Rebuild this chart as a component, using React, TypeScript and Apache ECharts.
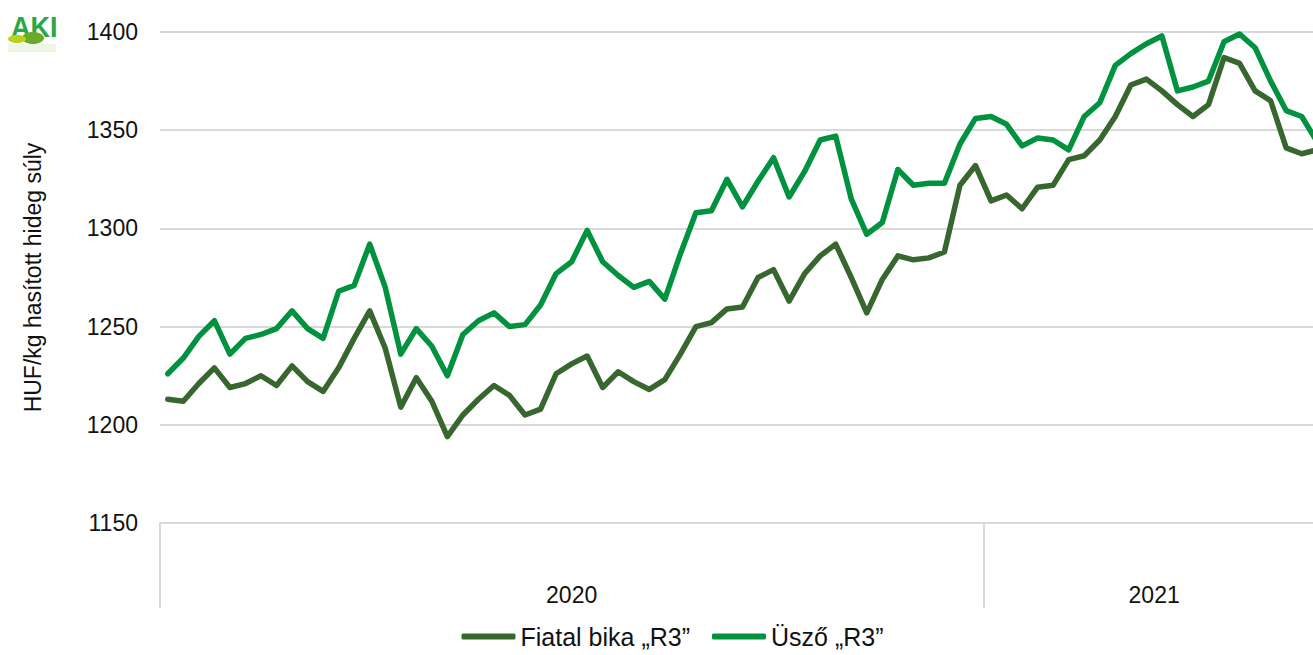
import React, { useEffect, useRef } from 'react';
import * as echarts from 'echarts';

const years = ['2020', '2021'];
const weeksPerYear = [53, 22];
const seriesNames = ['Fiatal bika „R3”', 'Üsző „R3”'];
const seriesColors = ['#37662F', '#00923F'];

const fiatalBika = [
  1213, 1212, 1221, 1229, 1219, 1221, 1225, 1220, 1230, 1222, 1217, 1229, 1244, 1258, 1239, 1209, 1224, 1212, 1194, 1205,
  1213, 1220, 1215, 1205, 1208, 1226, 1231, 1235, 1219, 1227, 1222, 1218, 1223, 1236, 1250, 1252, 1259, 1260, 1275, 1279,
  1263, 1277, 1286, 1292, 1275, 1257, 1274, 1286, 1284, 1285, 1288, 1322, 1332,
  1314, 1317, 1310, 1321, 1322, 1335, 1337, 1345, 1357, 1373, 1376, 1370, 1363, 1357, 1363, 1387, 1384, 1370, 1365, 1341,
  1338, 1340,
];
const uszo = [
  1226, 1234, 1245, 1253, 1236, 1244, 1246, 1249, 1258, 1249, 1244, 1268, 1271, 1292, 1270, 1236, 1249, 1240, 1225, 1246,
  1253, 1257, 1250, 1251, 1261, 1277, 1283, 1299, 1283, 1276, 1270, 1273, 1264, 1287, 1308, 1309, 1325, 1311, 1324, 1336,
  1316, 1329, 1345, 1347, 1315, 1297, 1303, 1330, 1322, 1323, 1323, 1343, 1356,
  1357, 1353, 1342, 1346, 1345, 1340, 1357, 1364, 1383, 1389, 1394, 1398, 1370, 1372, 1375, 1395, 1399, 1392, 1375, 1360,
  1357, 1344,
];
const yMin = 1150;
const yMax = 1400;
const yStep = 50;
const yAxisTitle = 'HUF/kg hasított hideg súly';

// weekly categories
const categories: string[] = [];
years.forEach((y, i) => {
  for (let w = 1; w <= weeksPerYear[i]; w++) categories.push(`${y}. ${w}. hét`);
});

// half-week positions for the year-group axis (boundaries and centres of each year)
const totalWeeks = categories.length;
const groupPoints: string[] = Array.from({ length: 2 * totalWeeks + 1 }, (_, k) => `p${k}`);
const groupLabels: string[] = groupPoints.map(() => '');
const groupBoundaries: number[] = [0];
let acc = 0;
weeksPerYear.forEach((n, i) => {
  groupLabels[2 * acc + n] = years[i];
  acc += n;
  groupBoundaries.push(2 * acc);
});

const FONT = '"Liberation Sans", Arial, sans-serif';

export default function App() {
  const ref = useRef<HTMLDivElement>(null);
  useEffect(() => {
    if (!ref.current) return;
    const chart = echarts.init(ref.current, undefined, { renderer: 'svg' });
    chart.setOption({
      animation: false,
      backgroundColor: '#fff',
      textStyle: { fontFamily: FONT },
      grid: { left: 160, top: 32, width: 1165, height: 491, containLabel: false },
      legend: {
        top: 619,
        left: 'center',
        icon: 'roundRect',
        itemWidth: 54,
        itemHeight: 6,
        itemGap: 22,
        textStyle: { fontSize: 25, color: '#111', fontFamily: FONT },
        data: seriesNames,
      },
      xAxis: [
        {
          type: 'category',
          data: categories,
          boundaryGap: true,
          axisLine: { show: true, lineStyle: { color: '#d9d9d9', width: 2 } },
          axisTick: { show: false },
          axisLabel: { show: false },
          splitLine: { show: false },
        },
        {
          type: 'category',
          position: 'bottom',
          offset: 0,
          data: groupPoints,
          boundaryGap: false,
          axisLine: { show: false },
          axisTick: {
            show: true,
            length: 85,
            interval: (index: number) => groupBoundaries.includes(index),
            lineStyle: { color: '#d9d9d9', width: 2 },
          },
          axisLabel: {
            show: true,
            interval: (index: number) => groupLabels[index] !== '',
            formatter: (_v: string, index: number) => groupLabels[index],
            margin: 60,
            fontSize: 23,
            color: '#111',
            fontFamily: FONT,
          },
          splitLine: { show: false },
        },
      ],
      yAxis: {
        type: 'value',
        min: yMin,
        max: yMax,
        interval: yStep,
        name: yAxisTitle,
        nameLocation: 'middle',
        nameRotate: 90,
        nameGap: 116,
        nameTextStyle: { fontSize: 23, color: '#111', fontFamily: FONT },
        axisLine: { show: false },
        axisTick: { show: false },
        axisLabel: {
          fontSize: 23,
          color: '#111',
          margin: 22,
          fontFamily: FONT,
          formatter: (v: number) => String(v),
        },
        splitLine: { show: true, lineStyle: { color: '#d9d9d9', width: 2 } },
      },
      series: [
        {
          name: seriesNames[0],
          type: 'line',
          data: fiatalBika,
          symbol: 'none',
          color: seriesColors[0],
          lineStyle: { width: 5.5, color: seriesColors[0], cap: 'round', join: 'round' },
        },
        {
          name: seriesNames[1],
          type: 'line',
          data: uszo,
          symbol: 'none',
          color: seriesColors[1],
          lineStyle: { width: 5.5, color: seriesColors[1], cap: 'round', join: 'round' },
        },
      ],
      graphic: [
        {
          type: 'text',
          left: 11,
          top: 11,
          z: 10,
          scaleX: 0.9,
          style: { text: 'AKI', fontSize: 30, fontWeight: 'bold', fontFamily: FONT, fill: '#2aa845' },
        },
        { type: 'ellipse', z: 11, shape: { cx: 33, cy: 38, rx: 11, ry: 6 }, style: { fill: '#6aa82e' } },
        { type: 'ellipse', z: 12, shape: { cx: 17, cy: 39, rx: 9, ry: 4 }, style: { fill: '#b9d21c' } },
        { type: 'rect', z: 9, shape: { x: 8, y: 44, width: 48, height: 8 }, style: { fill: '#eef6e6' } },
      ],
    });
    return () => chart.dispose();
  }, []);
  return (
    <div style={{ position: 'fixed', left: 0, top: 0, width: '100vw', height: '100vh', overflow: 'hidden', background: '#fff' }}>
      <div ref={ref} style={{ width: 1345, height: 655 }} />
    </div>
  );
}
